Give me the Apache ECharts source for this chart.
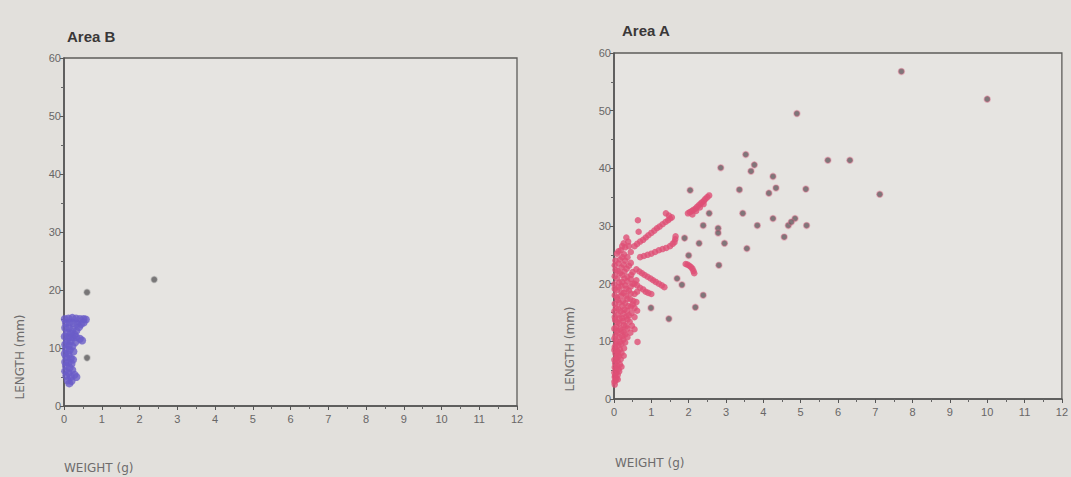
<!DOCTYPE html>
<html>
<head>
<meta charset="utf-8">
<style>
  html, body { margin: 0; padding: 0; background: #e2e0dc; }
  #chart { width: 1071px; height: 477px; }
</style>
<script src="https://cdn.jsdelivr.net/npm/echarts@6/dist/echarts.min.js"></script>
</head>
<body>
<div id="chart"></div>
<script>
// Panel titles and axis names
const panelTitles = ['Area B', 'Area A'];
const yName = 'LENGTH (mm)';
const xName = 'WEIGHT (g)';

// Axis ranges / ticks
const weightTicks = [0, 1, 2, 3, 4, 5, 6, 7, 8, 9, 10, 11, 12];
const lengthTicks = [0, 10, 20, 30, 40, 50, 60];

// Area B: dense cluster of small fish [weight g, length mm]
const areaBCluster = [
  [0.02,15.0],[0.12,15.1],[0.22,15.2],[0.32,15.1],[0.42,15.0],[0.52,15.0],[0.58,14.9],
  [0.05,14.3],[0.15,14.4],[0.25,14.3],[0.35,14.2],[0.45,14.1],[0.52,14.4],
  [0.03,13.5],[0.13,13.4],[0.23,13.2],[0.33,13.0],[0.4,13.6],[0.08,12.6],[0.18,12.5],[0.28,12.3],
  [0.02,12.0],[0.12,11.8],[0.22,11.9],[0.32,11.9],[0.42,11.6],[0.48,11.3],[0.08,11.2],[0.18,11.2],[0.3,11.0],
  [0.03,10.6],[0.13,10.4],[0.22,10.3],[0.05,9.8],[0.15,9.6],[0.25,9.4],[0.02,9.0],[0.12,8.9],
  [0.06,8.4],[0.18,8.2],[0.24,8.0],[0.03,7.6],[0.12,7.5],[0.2,7.3],
  [0.05,6.9],[0.15,6.6],[0.22,6.2],[0.03,6.0],[0.12,5.7],[0.28,5.4],[0.33,5.0],[0.06,5.2],[0.18,5.0],
  [0.1,4.4],[0.2,4.3],[0.14,3.9]
];
// Area B: isolated larger fish
const areaBSingles = [[0.61,19.6],[2.39,21.8],[0.61,8.3]];

// Area A: dense juvenile band
const areaABand = [
  [0.02,2.5],[0.04,3.2],[0.1,3.4],[0.03,4.0],[0.06,4.5],[0.14,4.8],[0.05,5.2],[0.08,5.8],[0.2,5.6],
  [0.03,6.2],[0.1,6.6],[0.06,7.0],[0.13,7.4],[0.26,7.5],[0.04,7.9],[0.09,8.3],[0.16,8.6],[0.02,9.0],
  [0.12,9.3],[0.2,9.6],[0.07,10.0],[0.63,9.9],[0.25,10.3],[0.15,10.7],[0.04,11.0],[0.3,11.2],[0.1,11.5],
  [0.2,11.9],[0.55,12.1],[0.36,12.2],[0.06,12.5],[0.27,12.8],[0.14,13.1],[0.42,13.4],[0.03,13.7],
  [0.22,14.0],[0.33,14.3],[0.1,14.6],[0.47,14.9],[0.62,15.3],[0.18,15.2],[0.28,15.5],[0.05,15.8],
  [0.38,16.1],[0.5,16.4],[0.14,16.7],[0.24,17.0],[0.44,17.3],[0.08,17.6],[0.32,17.9],[0.55,18.2],
  [0.2,18.5],[0.4,18.8],[0.02,19.1],[0.12,19.4],[0.3,19.7],[0.5,20.0],[0.22,20.3],[0.6,20.6],
  [0.08,20.9],[0.36,21.2],[0.46,21.5],[0.16,21.8],[0.28,22.1],[0.04,22.4],[0.2,22.8],[0.4,23.1],
  [0.12,23.5],[0.3,24.0],[0.22,24.6],[0.08,25.2],[0.18,25.8],[0.3,26.3],[0.26,27.0],[0.4,26.5],
  [0.01,3.0],[0.02,3.8],[0.07,3.6],[0.01,4.6],[0.1,4.2],[0.02,5.5],[0.12,5.2],[0.16,6.0],[0.01,6.8],
  [0.18,6.9],[0.07,7.4],[0.2,8.0],[0.01,8.5],[0.11,8.0],[0.27,8.8],[0.05,9.5],[0.16,9.9],[0.3,9.8],
  [0.01,10.5],[0.22,10.9],[0.36,10.7],[0.08,11.8],[0.26,11.6],[0.44,11.5],[0.01,12.2],[0.17,12.2],
  [0.32,12.6],[0.48,12.7],[0.09,13.3],[0.25,13.5],[0.36,13.8],[0.02,14.2],[0.15,14.0],[0.4,14.5],
  [0.55,14.2],[0.25,14.8],[0.01,15.2],[0.12,15.6],[0.35,15.3],[0.55,15.8],[0.22,16.1],[0.02,16.5],
  [0.3,16.6],[0.45,16.0],[0.6,16.8],[0.1,17.2],[0.36,17.4],[0.52,17.0],[0.18,17.9],[0.02,18.0],
  [0.45,18.3],[0.26,18.4],[0.62,18.6],[0.08,18.9],[0.33,19.1],[0.2,19.6],[0.45,19.5],[0.01,19.9],
  [0.36,20.4],[0.14,20.2],[0.28,20.9],[0.45,20.8],[0.02,21.3],[0.22,21.5],[0.5,22.0],[0.1,22.2],
  [0.34,22.6],[0.02,23.2],[0.26,23.3],[0.45,23.6],[0.16,24.2],[0.36,24.6],[0.04,24.0],[0.27,25.1],
  [0.12,25.6],[0.45,25.5],[0.22,26.5],[0.38,27.3],[0.33,28.0],
  [0.55,26.5],[0.7,27.3],[0.85,28.0],[1.0,28.8],[1.15,29.6],[1.3,30.3],[1.45,31.0],[1.55,31.5],[1.39,32.2],
  [0.62,26.9],[0.78,27.6],[0.92,28.4],[1.08,29.2],[1.22,29.9],[1.38,30.7],[1.5,31.3],[1.47,31.8],
  [0.7,24.6],[0.9,25.0],[1.1,25.5],[1.3,26.0],[1.5,26.5],[1.62,27.2],[1.65,28.2],
  [0.8,24.8],[1.0,25.2],[1.2,25.8],[1.4,26.2],[1.57,26.9],[1.64,27.7],
  [0.6,22.5],[0.75,21.8],[0.9,21.2],[1.05,20.6],[1.2,20.0],[1.35,19.4],
  [0.68,22.1],[0.82,21.5],[0.98,20.9],[1.12,20.3],[1.28,19.7],
  [0.55,20.0],[0.7,19.3],[0.85,18.6],[1.0,18.2],[0.62,19.7],[0.78,19.0],[0.92,18.4],
  [0.64,31.0],[0.66,29.0],
  [1.98,32.2],[2.08,32.6],[2.18,33.0],[2.27,33.6],[2.36,34.1],[2.45,34.7],[2.55,35.3],[2.1,32.0],[2.3,33.2],
  [2.03,32.4],[2.13,32.8],[2.22,33.3],[2.32,33.9],[2.41,34.4],[2.5,35.0],[2.2,32.6],[2.4,33.8],
  [1.92,23.4],[2.02,23.1],[2.1,22.6],[2.15,21.8],[1.97,23.3],[2.06,22.9],[2.13,22.2]
];
// Area A: scattered larger fish
const areaASingles = [
  [7.7,56.8],[10.0,52.0],[4.9,49.5],[3.53,42.4],[3.76,40.6],[3.67,39.5],[2.86,40.1],[5.73,41.4],
  [6.32,41.4],[7.12,35.5],[5.14,36.4],[4.26,38.6],[4.34,36.6],[4.15,35.7],[3.36,36.3],[2.04,36.2],
  [3.45,32.2],[3.84,30.1],[4.26,31.3],[4.67,30.1],[4.85,31.3],[5.16,30.1],[4.56,28.1],[3.56,26.1],
  [2.79,29.6],[2.79,28.8],[2.96,27.0],[2.81,23.2],[2.39,30.1],[2.28,27.0],[1.89,27.9],[2.0,24.9],
  [1.69,20.9],[1.82,19.8],[2.39,18.0],[2.18,15.9],[1.47,13.9],[0.99,15.8],[2.55,32.2],[4.75,30.7]
];

const FONT = 'Liberation Sans, Arial, sans-serif';
const labelStyle = { color: '#686666', fontSize: 11, fontFamily: FONT };

function xAxisFor(gridIndex) {
  return {
    type: 'value', gridIndex,
    min: weightTicks[0], max: weightTicks[weightTicks.length - 1], interval: 1,
    axisLine: { show: true, onZero: false, lineStyle: { color: '#555', width: 1.6 } },
    axisTick: { show: true, length: 4, lineStyle: { color: '#555' } },
    minorTick: { show: true, splitNumber: 2, length: 3, lineStyle: { color: '#666' } },
    splitLine: { show: false },
    axisLabel: Object.assign({ margin: 7 }, labelStyle)
  };
}
function yAxisFor(gridIndex) {
  return {
    type: 'value', gridIndex,
    min: lengthTicks[0], max: lengthTicks[lengthTicks.length - 1], interval: 10,
    axisLine: { show: true, onZero: false, lineStyle: { color: '#555', width: 1.6 } },
    axisTick: { show: true, length: 4, lineStyle: { color: '#555' } },
    minorTick: { show: true, splitNumber: 2, length: 3, lineStyle: { color: '#666' } },
    splitLine: { show: false },
    axisLabel: Object.assign({ margin: 3 }, labelStyle)
  };
}

const chart = echarts.init(document.getElementById('chart'), null, { renderer: 'svg' });
chart.setOption({
  backgroundColor: '#e2e0dc',
  animation: false,
  title: [
    { text: panelTitles[0], left: 62, top: 24,
      textStyle: { fontFamily: FONT, fontSize: 15, fontWeight: 'bold', color: '#3a3838' } },
    { text: panelTitles[1], left: 617, top: 18,
      textStyle: { fontFamily: FONT, fontSize: 15, fontWeight: 'bold', color: '#3a3838' } }
  ],
  grid: [
    { left: 64, top: 58, width: 453, height: 348, show: true,
      backgroundColor: '#e6e4e1', borderColor: '#5e5c5a', borderWidth: 1.3 },
    { left: 614, top: 53, width: 452, height: 346, show: true,
      backgroundColor: '#e6e4e1', borderColor: '#5e5c5a', borderWidth: 1.3 }
  ],
  xAxis: [xAxisFor(0), xAxisFor(1)],
  yAxis: [yAxisFor(0), yAxisFor(1)],
  graphic: [
    { type: 'text', x: 20, y: 357, rotation: Math.PI / 2,
      style: { text: yName, fontFamily: 'DejaVu Sans, sans-serif', fontSize: 12, fill: '#6e6c6c',
               align: 'center', verticalAlign: 'middle' } },
    { type: 'text', x: 570, y: 349, rotation: Math.PI / 2,
      style: { text: yName, fontFamily: 'DejaVu Sans, sans-serif', fontSize: 12, fill: '#6e6c6c',
               align: 'center', verticalAlign: 'middle' } },
    { type: 'text', x: 64, y: 468,
      style: { text: xName, fontFamily: 'DejaVu Sans, sans-serif', fontSize: 12, fill: '#6e6c6c',
               align: 'left', verticalAlign: 'middle' } },
    { type: 'text', x: 615, y: 463,
      style: { text: xName, fontFamily: 'DejaVu Sans, sans-serif', fontSize: 12, fill: '#6e6c6c',
               align: 'left', verticalAlign: 'middle' } }
  ],
  series: [
    { type: 'scatter', xAxisIndex: 0, yAxisIndex: 0, data: areaBCluster,
      symbolSize: 8, itemStyle: { color: '#6a5cc8' } },
    { type: 'scatter', xAxisIndex: 0, yAxisIndex: 0, data: areaBSingles,
      symbolSize: 6, itemStyle: { color: '#5c5a5c', borderColor: 'rgba(150,150,150,0.5)', borderWidth: 1.5 } },
    { type: 'scatter', xAxisIndex: 1, yAxisIndex: 1, data: areaABand,
      symbolSize: 6.5, itemStyle: { color: '#de4f75' } },
    { type: 'scatter', xAxisIndex: 1, yAxisIndex: 1, data: areaASingles,
      symbolSize: 6, itemStyle: { color: '#655a5f', borderColor: 'rgba(225,110,140,0.5)', borderWidth: 1.5 } }
  ]
});
</script>
</body>
</html>
